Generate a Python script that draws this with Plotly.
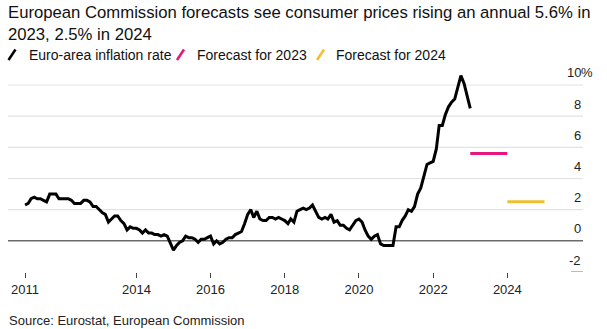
import plotly.graph_objects as go

# Euro-area HICP, annual rate of change (%), monthly, Jan 2011 - Jan 2023
inflation_start_year = 2011
inflation = [
    2.3, 2.4, 2.7, 2.8, 2.7, 2.7, 2.6, 2.5, 3.0, 3.0, 3.0, 2.7,   # 2011
    2.7, 2.7, 2.7, 2.6, 2.4, 2.4, 2.4, 2.6, 2.6, 2.5, 2.2, 2.2,   # 2012
    2.0, 1.8, 1.7, 1.2, 1.4, 1.6, 1.6, 1.3, 1.1, 0.7, 0.9, 0.8,   # 2013
    0.8, 0.7, 0.5, 0.7, 0.5, 0.5, 0.4, 0.4, 0.3, 0.4, 0.3, -0.2,  # 2014
    -0.6, -0.3, -0.1, 0.0, 0.3, 0.2, 0.2, 0.1, -0.1, 0.1, 0.1, 0.2,  # 2015
    0.3, -0.2, 0.0, -0.2, -0.1, 0.1, 0.2, 0.2, 0.4, 0.5, 0.6, 1.1,  # 2016
    1.7, 2.0, 1.5, 1.9, 1.4, 1.3, 1.3, 1.5, 1.5, 1.4, 1.5, 1.4,   # 2017
    1.3, 1.1, 1.4, 1.2, 1.9, 2.0, 2.1, 2.0, 2.1, 2.3, 1.9, 1.5,   # 2018
    1.4, 1.5, 1.4, 1.7, 1.2, 1.3, 1.0, 1.0, 0.8, 0.7, 1.0, 1.3,   # 2019
    1.4, 1.2, 0.7, 0.3, 0.1, 0.3, 0.4, -0.2, -0.3, -0.3, -0.3, -0.3,  # 2020
    0.9, 0.9, 1.3, 1.6, 2.0, 1.9, 2.2, 3.0, 3.4, 4.1, 4.9, 5.0,   # 2021
    5.1, 5.9, 7.4, 7.4, 8.1, 8.6, 8.9, 9.1, 9.9, 10.6, 10.1, 9.2,  # 2022
    8.5,                                                          # 2023
]
inflation_dates = [
    f"{inflation_start_year + i // 12}-{i % 12 + 1:02d}-01" for i in range(len(inflation))
]

# European Commission annual forecasts
forecast_2023_span = ["2023-01-01", "2024-01-01"]
forecast_2023 = 5.6
forecast_2024_span = ["2024-01-01", "2025-01-01"]
forecast_2024 = 2.5

x_tick_years = [2011, 2014, 2016, 2018, 2020, 2022, 2024]
x_tick_labels = [str(y) for y in x_tick_years]
y_tick_values = [-2, 0, 2, 4, 6, 8, 10]
y_tick_labels = ["-2", "0", "2", "4", "6", "8", "10"]

title_text = ("European Commission forecasts see consumer prices rising an annual 5.6% in"
              "<br>2023, 2.5% in 2024")
legend_labels = ["Euro-area inflation rate", "Forecast for 2023", "Forecast for 2024"]
source_text = "Source: Eurostat, European Commission"

BLACK = "#000000"
PINK = "#e3177c"
YELLOW = "#f0c12f"
GRID = "#e2e2e2"
FONT = "Liberation Sans, Arial, sans-serif"

W, H = 607, 329
ML, MR, MT, MB = 8, 24, 68, 57
PW, PH = W - ML - MR, H - MT - MB


def px(x):
    """Canvas pixel x -> paper fraction."""
    return (x - ML) / PW


def py(y):
    """Canvas pixel y -> paper fraction."""
    return (H - MB - y) / PH


fig = go.Figure()

fig.add_trace(go.Scatter(
    x=inflation_dates, y=inflation, mode="lines",
    line=dict(color=BLACK, width=3), name=legend_labels[0], showlegend=False,
    hoverinfo="skip",
))
fig.add_trace(go.Scatter(
    x=forecast_2023_span, y=[forecast_2023] * 2, mode="lines",
    line=dict(color=PINK, width=3), name=legend_labels[1], showlegend=False,
    hoverinfo="skip",
))
fig.add_trace(go.Scatter(
    x=forecast_2024_span, y=[forecast_2024] * 2, mode="lines",
    line=dict(color=YELLOW, width=3), name=legend_labels[2], showlegend=False,
    hoverinfo="skip",
))

shapes = []
# horizontal grid: light lines for positive levels, dark zero line, short stub at the floor
for v in y_tick_values:
    if v > 0:
        shapes.append(dict(type="line", xref="paper", yref="y", x0=0, x1=1, y0=v, y1=v,
                           line=dict(color=GRID, width=1.2), layer="below"))
    elif v == 0:
        shapes.append(dict(type="line", xref="paper", yref="y", x0=0, x1=1, y0=v, y1=v,
                           line=dict(color="#222222", width=1), layer="below"))
    else:
        shapes.append(dict(type="line", xref="paper", yref="y", x0=px(571), x1=1, y0=v, y1=v,
                           line=dict(color="#777777", width=1), layer="below"))

annotations = []
# y tick labels sit above their grid lines, right-aligned at the plot edge
for v, t in zip(y_tick_values, y_tick_labels):
    annotations.append(dict(text=t, xref="paper", yref="y", x=1, y=v, xanchor="right",
                            yanchor="middle", yshift=12, showarrow=False,
                            font=dict(family=FONT, size=13, color="#222222")))
annotations.append(dict(text="%", xref="paper", yref="y", x=1, y=y_tick_values[-1],
                        xanchor="left", yanchor="middle", yshift=12, xshift=-4, showarrow=False,
                        font=dict(family=FONT, size=13, color="#222222")))

# legend: slash swatches followed by labels
legend_items = [(8.5, 27, BLACK), (177, 195, PINK), (317, 334, YELLOW)]
for (sx, tx, col), lab in zip(legend_items, legend_labels):
    shapes.append(dict(type="line", xref="paper", yref="paper",
                       x0=px(sx), y0=py(60), x1=px(sx + 7), y1=py(49.5),
                       line=dict(color=col, width=2.5)))
    annotations.append(dict(text=lab, xref="paper", yref="paper", x=px(tx), y=py(54.5),
                            xanchor="left", yanchor="middle", showarrow=False,
                            font=dict(family=FONT, size=14, color="#111111")))

# headline, two lines, top-left
annotations.append(dict(text=title_text, xref="paper", yref="paper", x=px(6), y=py(0.5),
                        xanchor="left", yanchor="top", align="left", showarrow=False,
                        font=dict(family=FONT, size=16.7, color="#111111")))

annotations.append(dict(text=source_text, xref="paper", yref="paper", x=px(7), y=py(320),
                        xanchor="left", yanchor="middle", showarrow=False,
                        font=dict(family=FONT, size=13, color="#222222")))

fig.update_layout(
    width=W, height=H,
    margin=dict(l=ML, r=MR, t=MT, b=MB),
    paper_bgcolor="white", plot_bgcolor="white",
    xaxis=dict(
        type="date", range=["2010-07-17", "2026-01-15"],
        tickvals=[f"{y}-01-01" for y in x_tick_years], ticktext=x_tick_labels,
        ticks="outside", ticklen=5, tickwidth=1, tickcolor="#444444",
        showgrid=False, zeroline=False, showline=False,
        tickfont=dict(family=FONT, size=13, color="#222222"),
    ),
    yaxis=dict(
        range=[-2, 11.09], showgrid=False, zeroline=False, showline=False,
        showticklabels=False, ticks="",
    ),
    shapes=shapes, annotations=annotations,
    showlegend=False,
)

fig.write_html("out.html", config={"displayModeBar": False})
